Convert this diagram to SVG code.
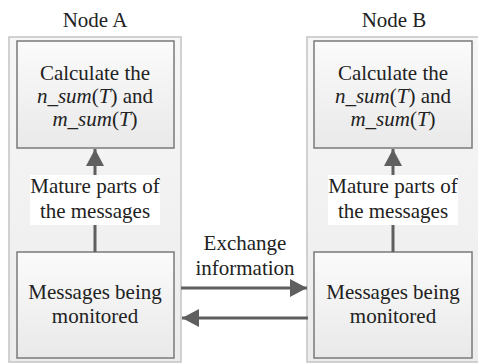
<svg xmlns="http://www.w3.org/2000/svg" width="478" height="363" viewBox="0 0 478 363">
<style>
text{font-size:21px;fill:#222;text-anchor:middle}
.it{font-style:italic}
.cont{fill:url(#gc);stroke:#c4c4c4;stroke-width:1.5}
.box{fill:url(#gb);stroke:#7a7a7a;stroke-width:1.5}
.conn{stroke:#5f5f5f;stroke-width:3;fill:none}
.lbl{fill:#fff}
</style>
<defs>
<linearGradient id="gc" x1="0" y1="0" x2="0" y2="1"><stop offset="0" stop-color="#f7f7f7"/><stop offset="1" stop-color="#ececec"/></linearGradient>
<linearGradient id="gb" x1="0" y1="0" x2="0" y2="1"><stop offset="0" stop-color="#fbfbfb"/><stop offset="1" stop-color="#e9e9e9"/></linearGradient>
<marker id="ah" markerUnits="userSpaceOnUse" markerWidth="18" markerHeight="18" viewBox="0 0 18 18" refX="17" refY="9" orient="auto"><path d="M0,0 L17,9 L0,18 Z" fill="#5f5f5f"/></marker>
</defs>
<g font-family="Liberation Serif, serif">
<g id="nodeA">
<text x="95" y="27">Node A</text>
<rect class="cont" x="9" y="37" width="172" height="325"/>
</g>
<g id="nodeB">
<text x="394" y="27">Node B</text>
<rect class="cont" x="307" y="37" width="175" height="325"/>
</g>
<g id="calcA">
<rect class="box" x="17" y="41" width="157" height="107"/>
<text x="95" y="80">Calculate the</text>
<text x="95" y="103"><tspan class="it">n_sum</tspan>(<tspan class="it">T</tspan>) and</text>
<text x="95" y="126"><tspan class="it">m_sum</tspan>(<tspan class="it">T</tspan>)</text>
</g>
<g id="calcB">
<rect class="box" x="314" y="41" width="158" height="107"/>
<text x="393" y="80">Calculate the</text>
<text x="393" y="103"><tspan class="it">n_sum</tspan>(<tspan class="it">T</tspan>) and</text>
<text x="393" y="126"><tspan class="it">m_sum</tspan>(<tspan class="it">T</tspan>)</text>
</g>
<g id="msgA">
<rect class="box" x="17" y="252" width="157" height="106"/>
<text x="95" y="299">Messages being</text>
<text x="95" y="323">monitored</text>
</g>
<g id="msgB">
<rect class="box" x="314" y="252" width="158" height="106"/>
<text x="393" y="299">Messages being</text>
<text x="393" y="323">monitored</text>
</g>
<g id="connectors">
<line class="conn" x1="95" y1="252" x2="95" y2="149" marker-end="url(#ah)"/>
<line class="conn" x1="393" y1="252" x2="393" y2="149" marker-end="url(#ah)"/>
<line class="conn" x1="181" y1="288" x2="307" y2="288" marker-end="url(#ah)"/>
<line class="conn" x1="308" y1="318" x2="182" y2="318" marker-end="url(#ah)"/>
<rect class="lbl" x="30" y="175" width="130" height="50"/>
<text x="95" y="193">Mature parts of</text>
<text x="95" y="218">the messages</text>
<rect class="lbl" x="328" y="175" width="130" height="50"/>
<text x="393" y="193">Mature parts of</text>
<text x="393" y="218">the messages</text>
<text x="245" y="250">Exchange</text>
<text x="245" y="275">information</text>
</g>
</g>
</svg>
